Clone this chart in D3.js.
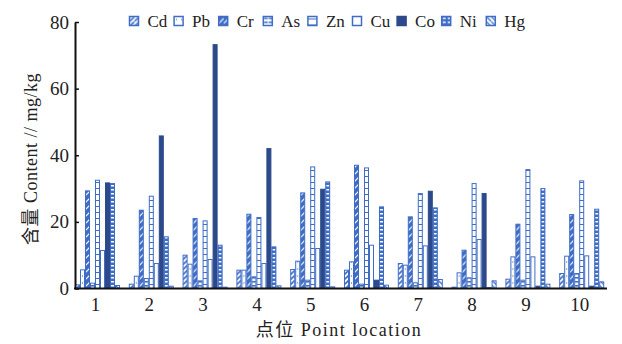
<!DOCTYPE html>
<html>
<head>
<meta charset="utf-8">
<script src="https://cdn.jsdelivr.net/npm/d3@7"></script>
<style>
  body { margin: 0; background: #fff; }
  svg text { font-family: "Liberation Serif", "Noto Sans CJK SC", serif; fill: #222; }
</style>
</head>
<body>
<div id="chart"></div>
<script>
// values, mg/kg, points 1..10
var points = ["1", "2", "3", "4", "5", "6", "7", "8", "9", "10"];
var metals = ["Cd", "Pb", "Cr", "As", "Zn", "Cu", "Co", "Ni", "Hg"];
var Cd = [1.1, 1.3, 10.0, 5.5, 5.7, 5.5, 7.5, 0.4, 2.8, 4.5];
var Pb = [5.6, 3.7, 7.3, 5.5, 8.2, 8.0, 7.0, 4.7, 9.5, 9.7];
var Cr = [29.3, 23.5, 21.0, 22.3, 28.7, 37.0, 21.5, 11.5, 19.3, 22.2];
var As = [1.6, 3.0, 2.3, 3.5, 2.5, 1.3, 1.7, 3.2, 2.5, 4.5];
var Zn = [32.5, 27.7, 20.3, 21.3, 36.5, 36.2, 28.5, 31.5, 35.7, 32.3];
var Cu = [11.4, 7.5, 8.7, 7.5, 12.0, 13.0, 12.8, 14.7, 9.5, 9.8];
var Co = [31.7, 45.8, 73.2, 42.0, 29.8, 2.5, 29.2, 28.5, 0.7, 0.7];
var Ni = [31.5, 15.5, 13.0, 12.5, 32.0, 24.5, 24.2, 0.3, 30.0, 23.8];
var Hg = [0.9, 0.7, 0.4, 0.8, 0.5, 1.0, 2.7, 2.3, 1.3, 2.0];
var yTicks = [0, 20, 40, 60, 80];

var series = { Cd: Cd, Pb: Pb, Cr: Cr, As: As, Zn: Zn, Cu: Cu, Co: Co, Ni: Ni, Hg: Hg };

var width = 622, height = 344;
var blue = "#3f6dc6", navy = "#2c4a8b";

var svg = d3.select("#chart").append("svg")
    .attr("width", width)
    .attr("height", height);

// fill patterns, one per metal
var defs = svg.append("defs");
function pattern(id, w, h, bg, draw) {
    var p = defs.append("pattern")
        .attr("id", id)
        .attr("patternUnits", "userSpaceOnUse")
        .attr("width", w).attr("height", h);
    p.append("rect").attr("width", w).attr("height", h).attr("fill", bg);
    draw(p);
}
pattern("p-Cd", 5, 5, "#fff", p => p.append("path").attr("d", "M0,5L5,0").attr("stroke", blue).attr("stroke-width", 1.6));
pattern("p-Pb", 5, 7, "#fff", p => p.append("rect").attr("x", 2).attr("y", 2).attr("width", 1).attr("height", 2).attr("fill", blue).attr("opacity", 0.6));
pattern("p-Cr", 5, 7, blue, p => p.append("path").attr("d", "M0,7L5,2").attr("stroke", "#fff").attr("stroke-width", 1.1));
pattern("p-As", 5, 4, "#fff", p => p.append("rect").attr("x", 0.5).attr("y", 1).attr("width", 4).attr("height", 1.6).attr("fill", blue));
pattern("p-Zn", 5, 6, "#fff", p => p.append("rect").attr("x", 0).attr("y", 2).attr("width", 5).attr("height", 1).attr("fill", blue));
pattern("p-Cu", 5, 5, "#fff", p => {});
pattern("p-Co", 5, 5, navy, p => {});
pattern("p-Ni", 5, 4, blue, p => p.append("rect").attr("x", 1).attr("y", 1).attr("width", 3).attr("height", 1.5).attr("fill", "#fff"));
pattern("p-Hg", 5, 5, "#fff", p => p.append("path").attr("d", "M0,0L5,5").attr("stroke", blue).attr("stroke-width", 1.3));

var x = d3.scaleBand()
    .domain(points)
    .range([75, 604.2])
    .paddingInner(8.8 / 53.8)
    .paddingOuter(0);

var xs = d3.scaleBand()
    .domain(metals)
    .range([0, x.bandwidth()]);

var y = d3.scaleLinear()
    .domain([0, 80])
    .range([288.5, 22]);

// bars
var groups = svg.append("g")
    .selectAll("g")
    .data(points)
    .enter()
    .append("g")
    .attr("transform", d => "translate(" + x(d) + ",0)");

groups.selectAll("rect")
    .data((p, i) => metals.map(m => ({ metal: m, value: series[m][i] })))
    .enter()
    .append("rect")
        .attr("x", d => xs(d.metal) + 0.5)
        .attr("width", xs.bandwidth() - 1)
        .attr("y", d => y(d.value))
        .attr("height", d => y(0) - y(d.value))
        .attr("fill", d => "url(#p-" + d.metal + ")")
        .attr("stroke", d => d.metal == "Co" ? navy : blue)
        .attr("stroke-width", 1);

// y axis
var yAxis = svg.append("g")
    .attr("transform", "translate(75,0)")
    .call(d3.axisLeft(y).tickValues(yTicks).tickSizeInner(-4).tickSizeOuter(0).tickPadding(6));
yAxis.select(".domain").attr("stroke", "#111").attr("stroke-width", 2);
yAxis.selectAll(".tick line").attr("stroke", "#111").attr("stroke-width", 1.5);
yAxis.selectAll("text").style("font-size", "19px").attr("fill", "#222");

// x axis
var xAxis = svg.append("g")
    .attr("transform", "translate(0,288.5)")
    .call(d3.axisBottom(x).tickSize(0).tickPadding(9));
xAxis.select(".domain").remove();
xAxis.selectAll("text").style("font-size", "19px").attr("fill", "#222").attr("dx", "-2");
svg.append("line")
    .attr("x1", 74).attr("x2", 607)
    .attr("y1", y(0)).attr("y2", y(0))
    .attr("stroke", "#111").attr("stroke-width", 2);

// axis titles
svg.append("text")
    .attr("transform", "translate(37,159) rotate(-90)")
    .attr("text-anchor", "middle")
    .style("font-size", "18px")
    .style("letter-spacing", "0.5px")
    .text("含量 Content // mg/kg");

svg.append("text")
    .attr("x", 339).attr("y", 336)
    .attr("text-anchor", "middle")
    .style("font-size", "18px")
    .style("letter-spacing", "1.5px")
    .text("点位 Point location");

// legend
var legend = svg.append("g")
    .selectAll("g")
    .data(metals)
    .enter()
    .append("g")
    .attr("transform", (d, i) => "translate(" + (129.5 + i * 44.6) + ",16.5)");

legend.append("rect")
    .attr("width", 9).attr("height", 9)
    .attr("fill", d => "url(#p-" + d + ")")
    .attr("stroke", d => d == "Co" ? navy : blue)
    .attr("stroke-width", 1.5);

legend.append("text")
    .attr("x", 18).attr("y", 10)
    .style("font-size", "17px")
    .text(d => d);
</script>
</body>
</html>
